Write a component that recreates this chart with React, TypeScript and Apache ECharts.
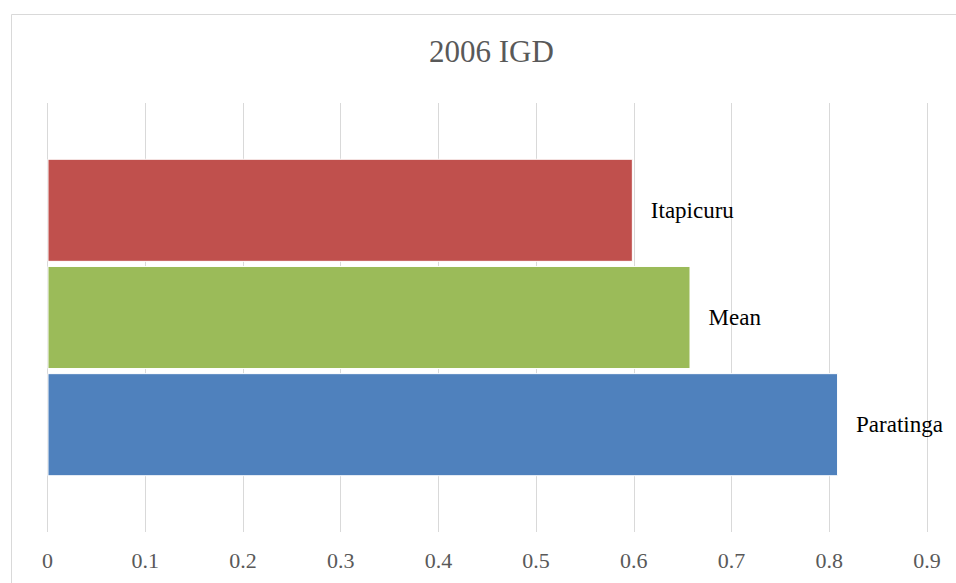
import React, { useEffect, useRef } from "react";
import * as echarts from "echarts";

// IGD index, 2006
const categories = [""];
const seriesNames = ["Itapicuru", "Mean", "Paratinga"];
const seriesValues = [[0.599], [0.658], [0.809]];
const seriesColors = ["#C0504D", "#9BBB59", "#4F81BD"];
const xTicks = { min: 0, max: 0.9, interval: 0.1 };

const serif = "Liberation Serif";

export default function App() {
  const ref = useRef<HTMLDivElement>(null);

  useEffect(() => {
    if (!ref.current) return;
    const chart = echarts.init(ref.current, null, { renderer: "svg" });
    chart.setOption({
      animation: false,
      backgroundColor: "#ffffff",
      title: {
        text: "2006 IGD",
        left: 429,
        top: 36,
        padding: 0,
        textStyle: {
          fontFamily: serif,
          fontSize: 31,
          fontWeight: "normal",
          color: "#595959",
        },
      },
      graphic: [
        {
          type: "rect",
          shape: { x: 11.5, y: 14.5, width: 1000, height: 1000 },
          style: { fill: "none", stroke: "#d9d9d9", lineWidth: 1 },
          silent: true,
        },
      ],
      grid: { left: 47.5, right: 29, top: 103, bottom: 51, containLabel: false },
      xAxis: {
        type: "value",
        min: xTicks.min,
        max: xTicks.max,
        interval: xTicks.interval,
        axisLine: { show: false },
        axisTick: { show: false },
        splitLine: { show: true, lineStyle: { color: "#d9d9d9", width: 1 } },
        axisLabel: {
          margin: 17,
          fontFamily: serif,
          fontSize: 22,
          color: "#595959",
          formatter: (v: number) => String(Math.round(v * 10) / 10),
        },
      },
      yAxis: {
        type: "category",
        data: categories,
        inverse: true,
        axisLine: { show: false },
        axisTick: { show: false },
        axisLabel: { show: false },
        splitLine: { show: false },
      },
      series: seriesNames.map((name, i) => ({
        name,
        type: "bar",
        data: seriesValues[i],
        barCategoryGap: "26%",
        barGap: "4%",
        itemStyle: { color: seriesColors[i], borderColor: "#ffffff", borderWidth: 1 },
        label: {
          show: true,
          position: "right",
          distance: 18,
          formatter: "{a}",
          fontFamily: serif,
          fontSize: 23,
          color: "#000000",
        },
      })),
    });
    return () => chart.dispose();
  }, []);

  return (
    <div
      ref={ref}
      style={{ position: "absolute", left: 0, top: 0, width: 956, height: 583 }}
    />
  );
}
